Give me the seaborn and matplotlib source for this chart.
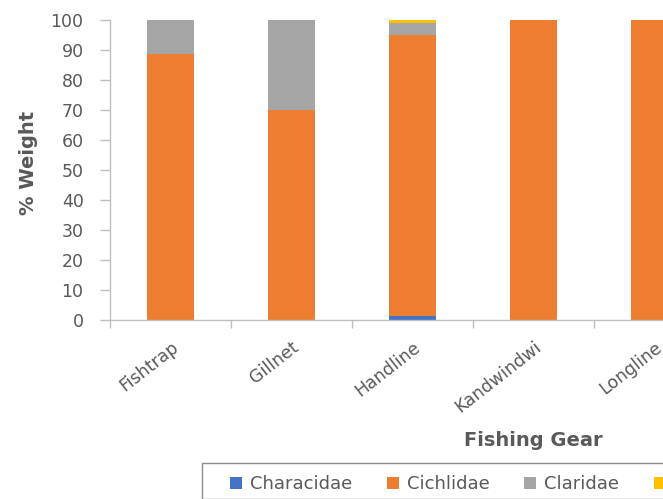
import matplotlib
matplotlib.use("Agg")
import matplotlib.pyplot as plt
from matplotlib.patches import Patch, Rectangle
import seaborn as sns
import pandas as pd
import numpy as np

gears = ["Fishtrap", "Gillnet", "Handline", "Kandwindwi", "Longline"]
families = ["Characidae", "Cichlidae", "Claridae", "Cyprinidae"]
characidae = [0.0, 0.0, 1.5, 0.0, 0.0]
cichlidae = [88.5, 70.0, 93.5, 100.0, 100.0]
claridae = [11.5, 30.0, 4.0, 0.0, 0.0]
cyprinidae = [0.0, 0.0, 1.0, 0.0, 0.0]
colors = ["#4472C4", "#ED7D31", "#A5A5A5", "#FFC000"]
y_ticks = list(range(0, 101, 10))

sns.set_theme(style="white")
plt.rcParams["font.family"] = ["DejaVu Sans"]
plt.rcParams["ytick.major.pad"] = 12
plt.rcParams["ytick.major.size"] = 7
plt.rcParams["ytick.left"] = True

df = pd.DataFrame({"gear": gears, "Characidae": characidae, "Cichlidae": cichlidae,
                   "Claridae": claridae, "Cyprinidae": cyprinidae})
stack = df[families].cumsum(axis=1)

fig = plt.figure(figsize=(6.63, 4.99), dpi=100)
W, H = 663, 499
# plot area runs past the right edge of the figure
x0, x1, ytop, ybot = 110, 957, 20, 320
ax = fig.add_axes([x0 / W, 1 - ybot / H, (x1 - x0) / W, (ybot - ytop) / H])

# stacked bars: draw cumulative totals from the top series down
for fam, col in reversed(list(zip(families, colors))):
    sns.barplot(x=df["gear"], y=stack[fam], color=col, width=0.39,
                saturation=1, ax=ax, linewidth=0, order=gears)

ax.set_xlim(-0.5, 6.5)
ax.set_ylim(0, 100)
ax.set_yticks(y_ticks)
ax.set_yticklabels([str(v) for v in y_ticks])

axis_col = "#BFBFBF"
text_col = "#595959"
for s in ["top", "right"]:
    ax.spines[s].set_visible(False)
for s in ["left", "bottom"]:
    ax.spines[s].set_color(axis_col)
    ax.spines[s].set_linewidth(1.0)

ax.tick_params(axis="y", which="major", direction="out", length=7, width=1,
               color=axis_col, labelcolor=text_col, labelsize=12.5, pad=12, left=True)
ax.tick_params(axis="x", which="major", length=0, labelcolor=text_col,
               labelsize=12.5, pad=13)
ax.set_xticks(np.arange(-0.5, 7, 1.0), minor=True)
ax.tick_params(axis="x", which="minor", direction="out", length=6, width=1,
               color=axis_col, bottom=True)
for lab in ax.get_xticklabels():
    lab.set_rotation(38)
    lab.set_ha("right")
    lab.set_rotation_mode("anchor")

ax.set_ylabel("% Weight", fontsize=14, fontweight="bold", color=text_col)
ax.yaxis.set_label_coords(-0.085, 0.523)
ax.set_xlabel("Fishing Gear", fontsize=14, fontweight="bold", color=text_col)
ax.xaxis.set_label_coords(0.5, -0.37)

# legend frame and entries
fig.add_artist(Rectangle((202 / W, 0), 1.0, 1 - 463 / H, transform=fig.transFigure,
                         facecolor="white", edgecolor="#8C8C8C", linewidth=1.0))
handles = [Patch(facecolor=c, edgecolor="none", label=f) for f, c in zip(families, colors)]
leg = fig.legend(handles=handles, loc="center left", bbox_to_anchor=(230 / W, 1 - 484 / H),
                 ncol=4, frameon=False, fontsize=13, borderpad=0, borderaxespad=0,
                 handlelength=0.67, handleheight=0.67, handletextpad=0.45,
                 columnspacing=1.9, labelcolor=text_col)

fig.savefig("out.png", dpi=100)
